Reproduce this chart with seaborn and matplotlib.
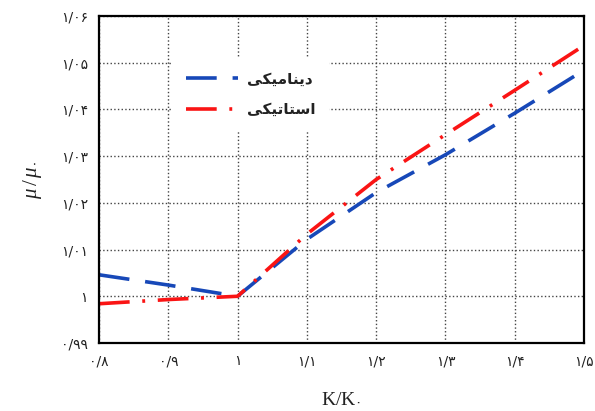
import matplotlib
matplotlib.use("Agg")
import matplotlib.pyplot as plt
import pandas as pd
import seaborn as sns

# K/K0 values on the x axis
k_ratio = [0.8, 0.9, 1.0, 1.1, 1.2, 1.3, 1.4, 1.5]
# mu/mu0
dynamic_mu = [1.0046, 1.0024, 1.0, 1.0122, 1.0222, 1.0303, 1.0392, 1.0484]
static_mu = [0.9984, 0.9993, 1.0, 1.0133, 1.0250, 1.0346, 1.0441, 1.0537]

series_names = ["دینامیکی", "استاتیکی"]

x_ticks = [0.8, 0.9, 1.0, 1.1, 1.2, 1.3, 1.4, 1.5]
x_labels = ["۰/۸", "۰/۹", "۱", "۱/۱", "۱/۲", "۱/۳", "۱/۴", "۱/۵"]
y_ticks = [0.99, 1.0, 1.01, 1.02, 1.03, 1.04, 1.05, 1.06]
y_labels = ["۰/۹۹", "۱", "۱/۰۱", "۱/۰۲", "۱/۰۳", "۱/۰۴", "۱/۰۵", "۱/۰۶"]

# matplotlib does no arabic shaping, so pick the joined forms by hand
# (isolated, final, initial, medial)
FORMS = {
    "ا": ("\uFE8D", "\uFE8E", None, None),
    "د": ("\uFEA9", "\uFEAA", None, None),
    "س": ("\uFEB1", "\uFEB2", "\uFEB3", "\uFEB4"),
    "ت": ("\uFE95", "\uFE96", "\uFE97", "\uFE98"),
    "ن": ("\uFEE5", "\uFEE6", "\uFEE7", "\uFEE8"),
    "م": ("\uFEE1", "\uFEE2", "\uFEE3", "\uFEE4"),
    "ک": ("\uFB8E", "\uFB8F", "\uFB90", "\uFB91"),
    "ی": ("\uFBFC", "\uFBFD", "\uFBFE", "\uFBFF"),
}


def shape(word):
    out = []
    for i, c in enumerate(word):
        prev_join = i > 0 and FORMS[word[i - 1]][2] is not None
        next_join = i < len(word) - 1 and FORMS[c][2] is not None
        if prev_join and next_join:
            out.append(FORMS[c][3])
        elif prev_join:
            out.append(FORMS[c][1])
        elif next_join:
            out.append(FORMS[c][2])
        else:
            out.append(FORMS[c][0])
    return "".join(reversed(out))


dyn_name = shape(series_names[0])
sta_name = shape(series_names[1])

df = pd.DataFrame({
    "k": k_ratio * 2,
    "mu": dynamic_mu + static_mu,
    "kind": [dyn_name] * len(k_ratio) + [sta_name] * len(k_ratio),
})

sns.set_style("white")
plt.rcParams["font.family"] = ["DejaVu Sans"]
plt.rcParams["mathtext.fontset"] = "custom"
plt.rcParams["mathtext.rm"] = "Liberation Serif"
plt.rcParams["mathtext.it"] = "Liberation Serif:italic"
plt.rcParams["mathtext.sf"] = "DejaVu Sans"

fig = plt.figure(figsize=(5.95, 4.11), dpi=100)
ax = fig.add_axes([0.1664, 0.1655, 0.8151, 0.7955])

colors = {dyn_name: "#1748b8", sta_name: "#fa1414"}
dashes = {dyn_name: (8.5, 4.4), sta_name: (8.5, 3.5, 0.8, 3.5)}

sns.lineplot(data=df, x="k", y="mu", hue="kind", style="kind",
             palette=colors, dashes=dashes, linewidth=2.6, ax=ax)

ax.set_xlim(0.8, 1.5)
ax.set_ylim(0.99, 1.06)
ax.set_xticks(x_ticks)
ax.set_xticklabels(x_labels)
ax.set_yticks(y_ticks)
ax.set_yticklabels(y_labels)
ax.tick_params(length=0, labelsize=10, pad=8, colors="#222222")
ax.grid(True, ls=":", color="#444444", lw=1.0)

for s in ax.spines.values():
    s.set_color("black")
    s.set_linewidth(1.6)

ax.set_xlabel(r"$\mathrm{K/K}_{\mathsf{۰}}$", fontsize=14, labelpad=14, color="#222222")
ax.set_ylabel(r"$\mu\,/\,\mu_{\mathsf{۰}}$", fontsize=15, labelpad=12, color="#222222")

leg = ax.legend(loc="upper left", bbox_to_anchor=(0.135, 0.895), frameon=True,
                framealpha=1, edgecolor="none",
                prop={"size": 11, "weight": "bold"},
                handlelength=3.4, handletextpad=0.6, labelspacing=1.0,
                borderpad=0.9)
for t in leg.get_texts():
    t.set_color("#222222")

fig.savefig("out.png", dpi=100)
